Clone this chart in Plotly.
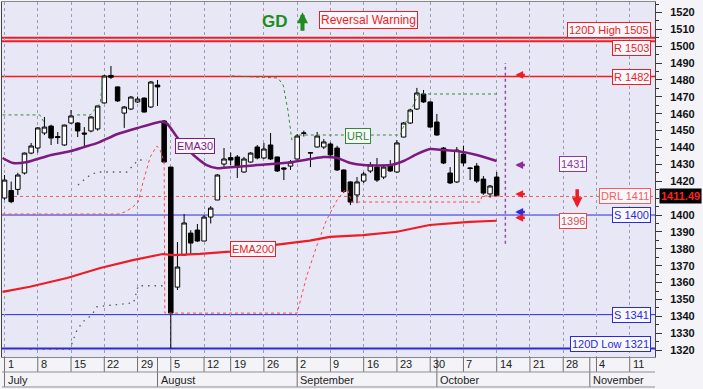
import plotly.graph_objects as go

# ---------------- data ----------------
# trading-day index (0 = July 1)
idx = list(range(75))
opens = [1410.1, 1414.5, 1415.2, 1424.9, 1436.7, 1439.7, 1448.6, 1452.7, 1446.5, 1441.5,
         1454.5, 1454.5, 1448.6, 1449.8, 1451.0, 1466.4, 1482.7, 1475.9, 1460.4, 1462.8,
         1467.0, 1469.3, 1464.0, 1477.0, 1455.7, 1428.4, 1357.3, 1376.3, 1389.3, 1391.1,
         1384.6, 1398.8, 1408.9, 1430.2, 1434.0, 1434.4, 1425.5, 1431.4, 1440.3, 1433.8,
         1441.5, 1434.4, 1427.9, 1429.0, 1433.2, 1448.4, 1436.7, 1440.3, 1440.3, 1442.1,
         1439.7, 1426.7, 1419.6, 1411.9, 1420.1, 1426.1, 1428.4, 1422.5, 1429.6, 1425.5,
         1446.2, 1454.5, 1462.8, 1471.7, 1467.0, 1455.1, 1439.7, 1424.9, 1419.6, 1436.1,
         1427.9, 1429.0, 1421.3, 1412.5, 1422.5]
highs = [1423.7, 1419.8, 1425.0, 1437.0, 1442.7, 1452.0, 1458.1, 1453.5, 1449.2, 1453.5,
         1462.2, 1455.0, 1452.1, 1458.7, 1465.0, 1483.0, 1488.3, 1476.2, 1464.6, 1470.5,
         1470.2, 1469.6, 1479.4, 1480.0, 1456.3, 1428.4, 1384.0, 1400.6, 1391.0, 1394.7,
         1400.0, 1405.3, 1424.3, 1439.7, 1437.0, 1435.6, 1434.4, 1437.3, 1441.5, 1442.7,
         1448.6, 1434.6, 1428.4, 1432.6, 1448.0, 1450.0, 1437.3, 1449.2, 1445.0, 1443.0,
         1441.0, 1427.0, 1420.0, 1422.5, 1425.5, 1431.4, 1433.8, 1429.6, 1432.6, 1444.4,
         1455.1, 1463.0, 1475.3, 1474.1, 1467.3, 1459.9, 1440.3, 1428.4, 1440.3, 1441.1,
         1428.4, 1430.8, 1423.1, 1417.8, 1425.5]
lows = [1409.0, 1407.0, 1411.9, 1424.0, 1436.0, 1437.0, 1447.4, 1441.5, 1442.1, 1441.0,
        1454.0, 1446.2, 1440.3, 1449.0, 1450.0, 1466.0, 1480.6, 1467.0, 1451.6, 1462.2,
        1466.4, 1460.8, 1463.4, 1464.6, 1431.0, 1321.0, 1355.6, 1376.0, 1377.0, 1384.0,
        1384.6, 1395.0, 1408.9, 1428.4, 1429.6, 1421.9, 1425.0, 1431.0, 1433.0, 1433.2,
        1432.6, 1425.5, 1420.7, 1426.7, 1433.0, 1446.5, 1428.4, 1440.0, 1439.1, 1435.0,
        1426.1, 1413.0, 1405.9, 1407.0, 1419.0, 1424.9, 1419.6, 1421.3, 1425.5, 1425.0,
        1446.0, 1454.0, 1462.2, 1466.4, 1451.6, 1447.0, 1430.2, 1418.4, 1419.0, 1429.0,
        1420.7, 1419.0, 1412.0, 1410.3, 1411.2]
closes = [1420.7, 1407.9, 1423.7, 1436.7, 1440.9, 1451.6, 1452.1, 1445.6, 1445.9, 1453.3,
          1458.7, 1449.8, 1448.0, 1458.1, 1464.6, 1482.4, 1481.6, 1467.6, 1464.0, 1469.9,
          1468.7, 1461.0, 1478.8, 1475.9, 1431.4, 1341.9, 1369.2, 1395.3, 1383.4, 1384.6,
          1398.8, 1404.1, 1423.7, 1433.2, 1432.6, 1428.4, 1433.2, 1436.7, 1433.8, 1439.1,
          1433.2, 1426.1, 1427.2, 1431.4, 1446.8, 1448.6, 1436.9, 1446.8, 1443.3, 1435.6,
          1426.7, 1414.0, 1407.7, 1419.6, 1424.3, 1429.6, 1420.7, 1428.4, 1426.1, 1442.7,
          1454.5, 1462.2, 1472.3, 1467.0, 1452.1, 1447.4, 1430.8, 1419.0, 1438.5, 1430.8,
          1427.6, 1420.1, 1413.0, 1417.2, 1411.49]

ema30_x = [-0.3, 1.3, 3.4, 7, 10, 12, 14, 17, 20, 23.6, 24.4, 25.9, 26.9, 28.4, 30.4, 32, 34,
           38, 42, 46, 48, 50, 52, 54, 58, 60, 62, 64, 66, 68, 71, 74]
ema30_y = [1433.8, 1430.8, 1431.4, 1435.6, 1437.9, 1440.3, 1442.7, 1448.0, 1451.6, 1455.3,
           1454.3, 1446.4, 1441.5, 1435.6, 1429.6, 1427.7, 1428.3, 1429.6, 1430.8, 1433.2,
           1434.4, 1433.8, 1430.8, 1429.6, 1429.6, 1432.0, 1436.1, 1439.1, 1438.5, 1437.9,
           1435.6, 1432.0]

ema200_x = [-0.3, 3.8, 9.4, 14.4, 19.3, 23.8, 25.3, 29.4, 33.9, 40.4, 45.9, 48.9, 53.9, 59.0,
            63.9, 69.9, 74.0]
ema200_y = [1354.5, 1357.5, 1362.7, 1368.6, 1373.3, 1376.9, 1376.3, 1377.0, 1378.3, 1382.2,
            1384.8, 1387.1, 1388.1, 1390.1, 1394.1, 1396.0, 1396.6]

stop_x = [-0.3, 17.1, 18.1, 19.2, 20.1, 20.8, 21.9, 22.9, 23.4, 24.0, 24.1, 44.0, 45.4, 46.9,
          48.4, 50.0, 51.2, 51.6, 52.2, 71.5, 71.8, 74.5]
stop_y = [1400.6, 1400.6, 1401.8, 1404.5, 1407.7, 1419.0, 1434.4, 1440.9, 1438.5, 1431.4,
          1341.9, 1341.9, 1363.4, 1381.2, 1397.0, 1408.9, 1414.8, 1414.8, 1407.7, 1407.7,
          1411.3, 1411.3]

url_x = [-0.3, 5.3, 6.1, None, 10.9, 12.9, 14.4, 14.8, 15.5, None, 34.2, 41.1, 41.9, 42.6,
         43.2, 43.8, 59.5, 59.9, 60.5, 61.3, 62.2, 74.1]
url_y = [1459.3, 1459.3, 1453.9, None, 1459.3, 1459.3, 1466.4, 1481.2, 1482.4, None, 1482.4,
         1481.2, 1477.0, 1462.2, 1444.4, 1447.4, 1447.4, 1451.6, 1456.3, 1464.0, 1471.7,
         1471.7]

glo_x = [3.8, 9.8, 10.9, 11.8, 13.1, 13.9, 19.4, 20.1, 24.4]
glo_y = [1320.4, 1320.4, 1331.9, 1336.8, 1340.7, 1345.7, 1348.0, 1358.1, 1358.1]
ghi_x = [11.05, 12.4, 13.9, 18.4, 20.1, 21.4]
ghi_y = [1417.8, 1422.5, 1425.5, 1425.5, 1432.6, 1432.6]

monday_idx = [0, 5, 10, 15, 20, 25, 30, 34, 39, 44, 49, 54, 59, 64, 69, 74, 79, 84, 89, 94]
monday_lbl = ["1", "8", "15", "22", "29", "5", "12", "19", "26", "2", "9", "16", "23", "30",
              "7", "14", "21", "28", "4", "11"]
month_idx = [0, 23, 44, 65, 88]
month_lbl = ["July", "August", "September", "October", "November"]

# price-axis labels (1410 sits under the last-price tag)
ytick_vals = [1320, 1330, 1340, 1350, 1360, 1370, 1380, 1390, 1400,
              1420, 1430, 1440, 1450, 1460, 1470, 1480, 1490, 1500, 1510, 1520]

# level lines: (value, label, color, width, dash)
levels = [(1505, "120D High 1505", "#EE1C24", 2, "solid"),
          (1503, "R 1503", "#EE1C24", 2, "solid"),
          (1482, "R 1482", "#EE1C24", 1.5, "solid"),
          (1411, "DRL 1411", "#FF5A5A", 1, "dot"),
          (1400, "S 1400", "#2A2AE0", 1, "solid"),
          (1341, "S 1341", "#2A2AE0", 1, "solid"),
          (1321, "120D Low 1321", "#2A2AE0", 2, "solid")]
level_label_shift = {1505: 8, 1503: -7, 1321: 4}

last_close = 1411.49
ema30_last = 1431
ema200_last = 1396

FONT = "Liberation Sans, Arial, sans-serif"

fig = go.Figure()

fig.add_trace(go.Candlestick(
    x=idx, open=opens, high=highs, low=lows, close=closes,
    increasing=dict(line=dict(color="#000000", width=1), fillcolor="#FFFFFF"),
    decreasing=dict(line=dict(color="#000000", width=1), fillcolor="#000000"),
    whiskerwidth=0, hoverinfo="skip"))

fig.add_trace(go.Scatter(x=glo_x, y=glo_y, mode="lines", hoverinfo="skip",
                         line=dict(color="#5A5A6A", width=1.3, dash="1.5px,5px")))
fig.add_trace(go.Scatter(x=ghi_x, y=ghi_y, mode="lines", hoverinfo="skip",
                         line=dict(color="#5A5A6A", width=1.3, dash="1.5px,5px")))
fig.add_trace(go.Scatter(x=url_x, y=url_y, mode="lines", hoverinfo="skip", connectgaps=False,
                         line=dict(color="#3A8A3A", width=1, dash="3px,3px")))
fig.add_trace(go.Scatter(x=stop_x, y=stop_y, mode="lines", hoverinfo="skip",
                         line=dict(color="#FF4A4A", width=1, dash="3px,3px")))
fig.add_trace(go.Scatter(x=ema200_x, y=ema200_y, mode="lines", hoverinfo="skip",
                         line=dict(color="#EE1C24", width=2.2)))
fig.add_trace(go.Scatter(x=ema30_x, y=ema30_y, mode="lines", hoverinfo="skip",
                         line=dict(color="#7D1A80", width=2.5, shape="spline", smoothing=0.6)))

# level lines and labels
for val, lbl, col, w, dash in levels:
    fig.add_shape(type="line", xref="paper", yref="y", x0=0, x1=1, y0=val, y1=val,
                  line=dict(color=col, width=w, dash=dash), layer="between")
    fig.add_annotation(xref="paper", yref="y", x=1, y=val, text=lbl, showarrow=False,
                       xanchor="right", yanchor="middle", xshift=-4,
                       yshift=level_label_shift.get(val, 0),
                       font=dict(family=FONT, size=11, color=col),
                       bgcolor="#F8F8FD", bordercolor=col, borderwidth=1, borderpad=1)

# "today" marker
fig.add_shape(type="line", xref="x", yref="y", x0=75.3, x1=75.3, y0=1383, y1=1490,
              line=dict(color="#9A4AA8", width=1.5, dash="dot"))

# chart labels
def tag(text, x, y, col, size=11):
    fig.add_annotation(x=x, y=y, text=text, showarrow=False, xanchor="center",
                       yanchor="middle", font=dict(family=FONT, size=size, color=col),
                       bgcolor="#F8F8FD", bordercolor=col, borderwidth=1, borderpad=1)

tag("EMA30", 28.6, 1440.9, "#7D1A80")
tag("EMA200", 37.3, 1379.6, "#EE1C24")
tag("URL", 53.2, 1446.8, "#2E8B2E")
tag(str(ema30_last), 85.5, 1430.2, "#8E3A9A")
tag(str(ema200_last), 85.4, 1396.7, "#E24A4A")
tag("Reversal Warning", 54.7, 1515.6, "#EE1C24", size=12)
fig.add_annotation(x=40.6, y=1514.6, text="<b>GD</b>", showarrow=False,
                   font=dict(family=FONT, size=17, color="#1E8C1E"))

# arrows
def arrow(x, y, ax, ay, col, w=2.4, size=0.65):
    fig.add_annotation(x=x, y=y, ax=ax, ay=ay, text="", showarrow=True, arrowhead=2,
                       arrowsize=size, arrowwidth=w, arrowcolor=col, standoff=0)

arrow(44.8, 1520.2, 0, 20, "#1E8C1E", w=4, size=0.55)
arrow(76.8, 1483.0, 11, 0, "#EE1C24")
arrow(76.8, 1429.6, 11, 0, "#8E2A9A")
arrow(76.8, 1412.4, 11, 0, "#EE1C24")
arrow(76.8, 1401.8, 11, 0, "#2A2AE0")
arrow(76.8, 1398.4, 11, 0, "#EE1C24")
arrow(86.1, 1404.3, 0, -20, "#EE1C24", w=3.5, size=0.6)

# last price tag on the axis
fig.add_annotation(xref="paper", yref="y", x=1, y=last_close, text="<b>%.2f</b>" % last_close,
                   showarrow=False, xanchor="left", yanchor="middle", xshift=4,
                   font=dict(family=FONT, size=11, color="#FF2020"),
                   bgcolor="#000000", borderpad=1)

# date axis (two rows below the plot)
ROW1_C, ROW_DIV, ROW2_C, ROW_BOT = -0.0211, -0.04225, -0.0634, -0.0845
for i, lbl in zip(monday_idx, monday_lbl):
    fig.add_shape(type="line", xref="x", yref="paper", x0=i, x1=i, y0=0, y1=ROW_DIV,
                  line=dict(color="#707070", width=1))
    fig.add_annotation(xref="x", yref="paper", x=i, y=ROW1_C, text=lbl, showarrow=False,
                       xanchor="left", yanchor="middle", xshift=1,
                       font=dict(family=FONT, size=11, color="#222222"))
for i, lbl in zip(month_idx, month_lbl):
    fig.add_shape(type="line", xref="x", yref="paper", x0=i, x1=i, y0=0, y1=ROW_BOT,
                  line=dict(color="#707070", width=1))
    fig.add_annotation(xref="x", yref="paper", x=i, y=ROW2_C, text=lbl, showarrow=False,
                       xanchor="left", yanchor="middle", xshift=1,
                       font=dict(family=FONT, size=11, color="#222222"))
for yy in (ROW_DIV, ROW_BOT):
    fig.add_shape(type="line", xref="paper", yref="paper", x0=0, x1=1, y0=yy, y1=yy,
                  line=dict(color="#909090", width=1))

fig.update_layout(
    width=703, height=389, margin=dict(l=2, r=48, t=2, b=32),
    paper_bgcolor="#F3F3F8", plot_bgcolor="#E7E7F5", showlegend=False,
    boxgap=0.25, boxgroupgap=0.1,
    font=dict(family=FONT),
    xaxis=dict(range=[-0.38, 97.8], tickvals=monday_idx, showticklabels=False, ticks="",
               showgrid=True, gridcolor="#9C9CB4", griddash="dot", gridwidth=1,
               zeroline=False, rangeslider=dict(visible=False), showline=True,
               linecolor="#888888", mirror=True),
    yaxis=dict(side="right", range=[1315.9, 1526.2], tickvals=ytick_vals, ticks="outside",
               ticklen=6, tickcolor="#333333", showgrid=False, zeroline=False,
               showline=True, linecolor="#444444", mirror=True, ticklabelstandoff=6,
               tickfont=dict(family=FONT, size=11, color="#111111", weight="bold"),
               minor=dict(tickvals=[1315 + 5 * k for k in range(43)], ticks="outside",
                          ticklen=3, tickcolor="#333333", showgrid=False)),
)

fig.write_html("out.html")
